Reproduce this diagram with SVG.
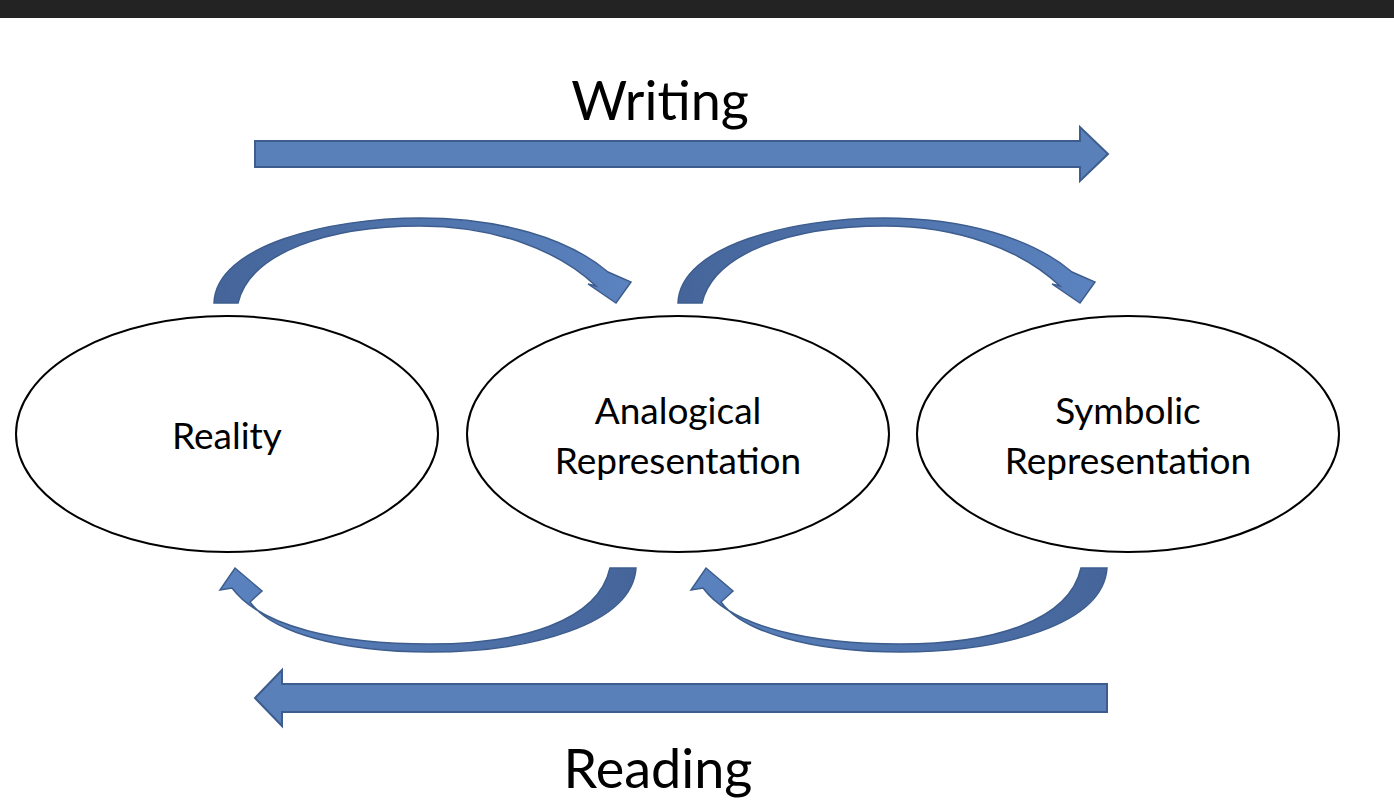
<svg xmlns="http://www.w3.org/2000/svg" width="1394" height="812" viewBox="0 0 1394 812">
<defs>
<linearGradient id="g" x1="0" y1="0" x2="1" y2="0"><stop offset="0" stop-color="#45659a"/><stop offset="1" stop-color="#5b83bf"/></linearGradient>
<linearGradient id="g2" x1="1" y1="0" x2="0" y2="0"><stop offset="0" stop-color="#45659a"/><stop offset="1" stop-color="#5b83bf"/></linearGradient>
<style>
.e{fill:#fff;stroke:#000;stroke-width:2}
.t{font-family:Lato,"Open Sans",sans-serif;font-size:37px;fill:#000;text-anchor:middle}
.h{font-family:Lato,"Open Sans",sans-serif;font-size:54px;fill:#000;text-anchor:middle}
.a{fill:#5a80ba;stroke:#3d5d8e;stroke-width:2}
.c{stroke:#3d5d8e;stroke-width:1.5}
</style>
</defs>
<rect x="0" y="0" width="1394" height="18" fill="#232323"/>
<rect x="0" y="18" width="1394" height="794" fill="#fff"/>
<text class="h" x="660" y="120">Writing</text>
<text class="h" x="658" y="788">Reading</text>
<g id="connectors">
<path class="a" d="M255,141 H1080 V127 L1108,154 L1080,181 V167 H255 Z"/>
<path class="a" d="M1107,684 H282 V670 L255,698 L282,726 V712 H1107 Z"/>
<path class="c" fill="url(#g)" d="M214,303 C216,245 330,218 420,218 C500,218 568,238 608,272 L631,282 L616,303 L588,284 L596,286 C558,250 495,226 420,226 C330,226 250,252 238,303 Z"/>
<path class="c" fill="url(#g)" transform="translate(464,0)" d="M214,303 C216,245 330,218 420,218 C500,218 568,238 608,272 L631,282 L616,303 L588,284 L596,286 C558,250 495,226 420,226 C330,226 250,252 238,303 Z"/>
<path class="c" fill="url(#g2)" d="M636,568 C632,625 530,652 430,652 C340,652 272,632 250,602 L262,591 L235,568 L220,590 L232,588 C262,628 340,644 430,644 C520,644 598,622 610,568 Z"/>
<path class="c" fill="url(#g2)" transform="translate(471,0)" d="M636,568 C632,625 530,652 430,652 C340,652 272,632 250,602 L262,591 L235,568 L220,590 L232,588 C262,628 340,644 430,644 C520,644 598,622 610,568 Z"/>
</g>
<g id="reality"><ellipse class="e" cx="227" cy="434" rx="211" ry="118"/><text class="t" x="227" y="449">Reality</text></g>
<g id="analogical"><ellipse class="e" cx="678" cy="434" rx="211" ry="118"/><text class="t" x="678" y="424">Analogical</text><text class="t" x="678" y="474">Representation</text></g>
<g id="symbolic"><ellipse class="e" cx="1128" cy="434" rx="211" ry="118"/><text class="t" x="1128" y="424">Symbolic</text><text class="t" x="1128" y="474">Representation</text></g>
</svg>
